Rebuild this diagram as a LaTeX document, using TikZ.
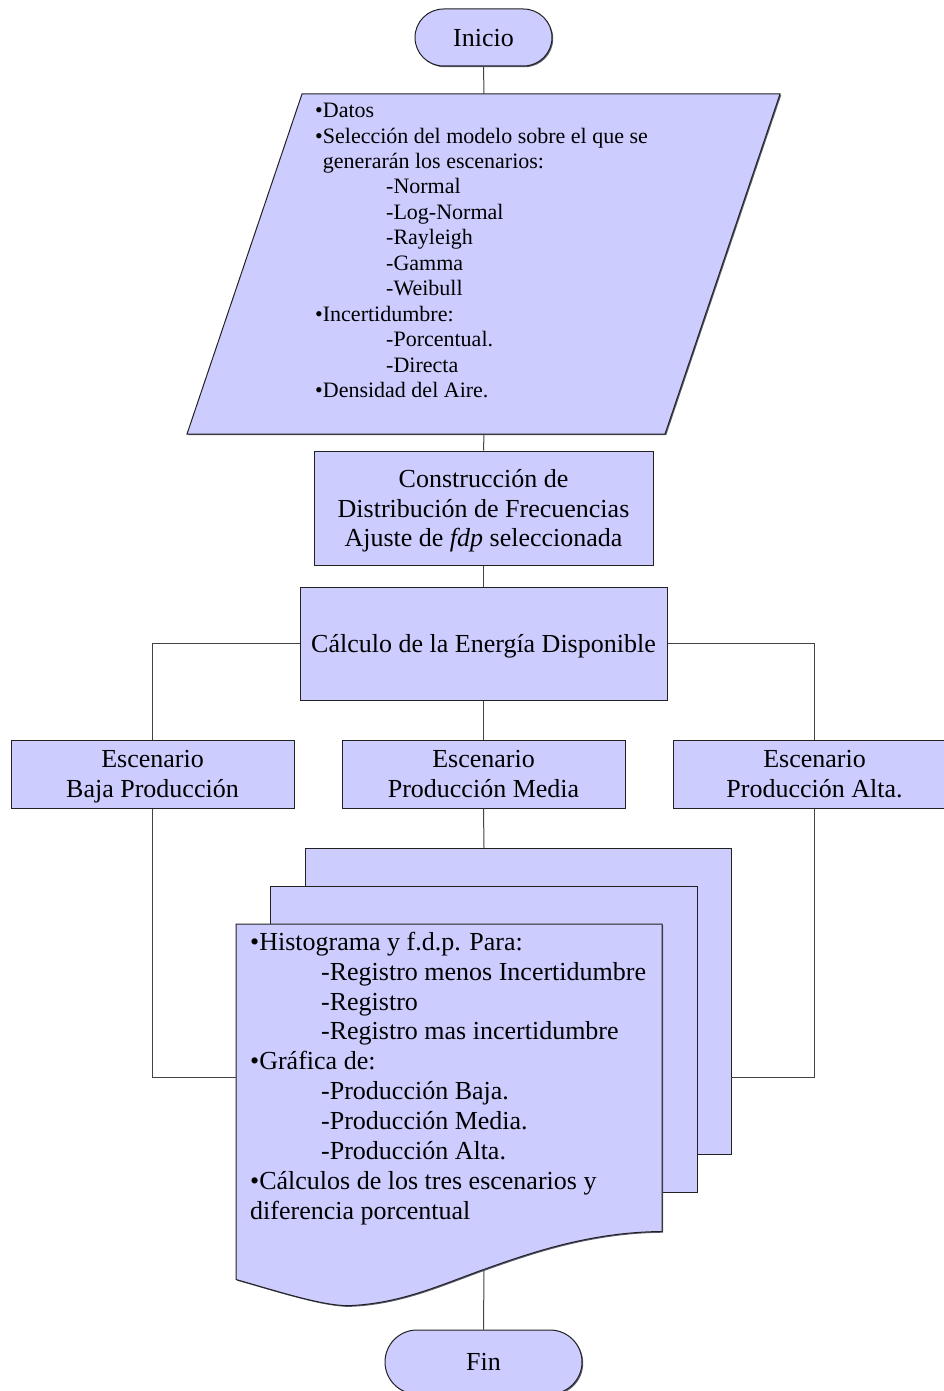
\documentclass[tikz,border=0pt]{standalone}
\usepackage{fontspec}
\setmainfont{Liberation Serif}
\usetikzlibrary{shadows}
\definecolor{boxfill}{HTML}{CCCCFF}
\definecolor{edge}{HTML}{222222}
\begin{document}
\begin{tikzpicture}[x=1pt,y=-1pt,
  flow/.style={draw=edge, line width=1pt, fill=boxfill,
    drop shadow={shadow xshift=1.2pt, shadow yshift=-1.2pt,
      fill=black!55!boxfill, opacity=1}},
  box/.style={flow, rectangle, inner sep=0pt, align=center, text depth=0pt,
    font=\fontsize{26}{29.9}\selectfont},
  term/.style={box, rounded corners=#1},
  link/.style={draw=edge!85, line width=1pt},
  listtext/.style={inner sep=0pt, align=left, anchor=base west},
]
\clip (0,0) rectangle (944,1391);

% start
\node[term=28.5pt, minimum width=137pt, minimum height=57pt] (inicio) at (483.5,37.5) {Inicio};

% input data (parallelogram)
\path[flow] (302,94) -- (780,94) -- (665,434) -- (187,434) -- cycle;
\coordinate (datosTop) at (484,94);
\coordinate (datosBot) at (484,434);
% the base anchor of a multi-line node sits on its last line
\node[listtext, font=\fontsize{22}{25.45}\selectfont] (datos) at (315,397.5) {%
•Datos\\
•Selección del modelo sobre el que se\\
\phantom{•}generarán los escenarios:\\
\hspace*{71pt}-Normal\\
\hspace*{71pt}-Log-Normal\\
\hspace*{71pt}-Rayleigh\\
\hspace*{71pt}-Gamma\\
\hspace*{71pt}-Weibull\\
•Incertidumbre:\\
\hspace*{71pt}-Porcentual.\\
\hspace*{71pt}-Directa\\
•Densidad del Aire.};

% processing steps
\node[box, minimum width=339pt, minimum height=114pt] (cons) at (483.5,508)
  {Construcción de\\Distribución de Frecuencias\\Ajuste de \textit{fdp} seleccionada};
\node[box, minimum width=367pt, minimum height=113pt] (calc) at (483.5,643.5)
  {Cálculo de la Energía Disponible};

% scenarios
\node[box, minimum width=283pt, minimum height=68pt] (baja) at (152.5,774)
  {Escenario\\Baja Producción};
\node[box, minimum width=283pt, minimum height=68pt] (media) at (483.5,774)
  {Escenario\\Producción Media};
\node[box, minimum width=283pt, minimum height=68pt] (alta) at (814.5,774)
  {Escenario\\Producción Alta.};

% output documents (stacked sheets)
\path[flow] (305,848) rectangle (731,1154);
\path[flow] (270,886) rectangle (697,1192);
\path[flow] (236,924) -- (662,924) -- (662,1231.5)
  .. controls (590,1232) and (530,1253) .. (485,1269)
  .. controls (440,1285) and (400,1304) .. (347,1305.7)
  .. controls (320,1305) and (280,1292) .. (236,1279.5) -- cycle;
\coordinate (docTop) at (484,848);
\coordinate (docLeft) at (236,1077);
\coordinate (docRight) at (731,1077);
\coordinate (docBot) at (484,1269);
\node[listtext, font=\fontsize{26}{29.9}\selectfont] (resultados) at (250,1219.3) {%
•Histograma y f.d.p. Para:\\
\hspace*{71pt}-Registro menos Incertidumbre\\
\hspace*{71pt}-Registro\\
\hspace*{71pt}-Registro mas incertidumbre\\
•Gráfica de:\\
\hspace*{71pt}-Producción Baja.\\
\hspace*{71pt}-Producción Media.\\
\hspace*{71pt}-Producción Alta.\\
•Cálculos de los tres escenarios y\\
diferencia porcentual};

% end
\node[term=32pt, minimum width=197pt, minimum height=64pt] (fin) at (483.5,1362) {Fin};

% connectors
\draw[link] (inicio.south) -- (datosTop);
\draw[link] (datosBot) -- (cons.north);
\draw[link] (cons.south) -- (calc.north);
\draw[link] (calc.west) -| (baja.north);
\draw[link] (calc.east) -| (alta.north);
\draw[link] (calc.south) -- (media.north);
\draw[link] (media.south) -- (docTop);
\draw[link] (baja.south) |- (docLeft);
\draw[link] (alta.south) |- (docRight);
\draw[link] (docBot) -- (fin.north);
\end{tikzpicture}
\end{document}
